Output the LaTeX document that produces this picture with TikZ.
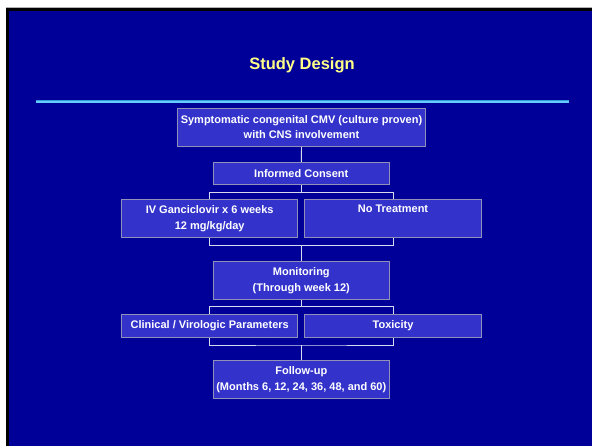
\documentclass[tikz,border=0pt]{standalone}
\usepackage{fontspec}
\setmainfont{Liberation Sans}
\definecolor{bgblue}{HTML}{000099}
\definecolor{boxfill}{HTML}{3333CC}
\definecolor{boxline}{HTML}{9090B8}
\definecolor{conn}{HTML}{D8D8EE}
\definecolor{titley}{HTML}{FFFF88}
\definecolor{rulelight}{HTML}{66CCFF}
\definecolor{ruledark}{HTML}{3399DD}
\begin{document}
\begin{tikzpicture}[x=1pt,y=-1pt,
  stepbox/.style={draw=boxline, line width=1pt, fill=boxfill, text=white,
    font=\fontsize{11}{16}\selectfont\bfseries, align=center, inner sep=0pt},
  tightbox/.style={stepbox, font=\fontsize{11}{14.5}\selectfont\bfseries},
  link/.style={draw=conn, line width=0.9pt}]
\useasboundingbox (0,0) rectangle (592,446);
\fill[white] (0,0) rectangle (592,446);
\fill[gray!60] (6,7) rectangle (592,446);
\fill[black] (6,8) rectangle (592,446);
\fill[bgblue] (9,11) rectangle (592,446);
\node[anchor=base, text=titley, font=\fontsize{16.5}{20}\selectfont\bfseries] (title) at (302,69.3) {Study Design};
\draw[ruledark, line width=3pt] (36,102) -- (568.7,102);
\draw[rulelight, line width=1.5pt] (36,102) -- (568.7,102);

\node[tightbox, minimum width=248.4, minimum height=38] (b1) at (301.5,127.3) {Symptomatic congenital CMV (culture proven)\\with CNS involvement};
\node[stepbox, minimum width=176, minimum height=21.6] (b2) at (301.3,173.5) {Informed Consent};
\node[stepbox, minimum width=176, minimum height=37.7] (b3) at (209.7,218.85) {IV Ganciclovir x 6 weeks\\12 mg/kg/day};
\node[stepbox, minimum width=177.4, minimum height=37.7] (b4) at (393,218.85) {No Treatment\\\strut};
\node[stepbox, minimum width=176, minimum height=38.3] (b5) at (301.3,280.2) {Monitoring\\(Through week 12)};
\node[stepbox, minimum width=176, minimum height=23] (b6) at (209.7,325.8) {Clinical / Virologic Parameters};
\node[stepbox, minimum width=177.4, minimum height=23] (b7) at (393,325.8) {Toxicity};
\node[stepbox, minimum width=176, minimum height=38.4] (b8) at (301.3,379.5) {Follow-up\\(Months 6, 12, 24, 36, 48, and 60)};

\coordinate (j1) at (301.3,192.3);
\coordinate (j2) at (301.3,245.3);
\coordinate (j3) at (301.3,306.7);
\coordinate (j4) at (301.3,345);

\draw[link] (b1.south) -- (b2.north);
\draw[link] (b2.south) -- (j1);
\draw[link] (b3.north) |- (j1) -| (b4.north);
\draw[link] (b3.south) |- (j2) -| (b4.south);
\draw[link] (j2) -- (b5.north);
\draw[link] (b5.south) -- (j3);
\draw[link] (b6.north) |- (j3) -| (b7.north);
\draw[link] (b6.south) |- (j4) -| (b7.south);
\draw[link] (j4) -- (b8.north);
\end{tikzpicture}
\end{document}
